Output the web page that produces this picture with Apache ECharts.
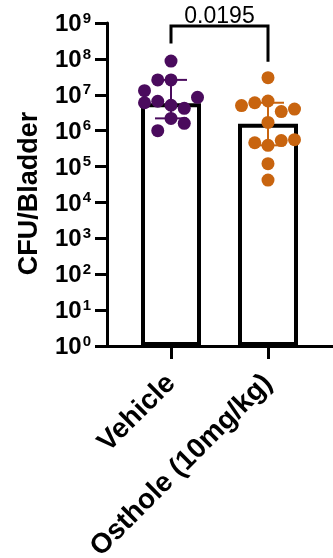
<!DOCTYPE html>
<html><head><meta charset="utf-8">
<script src="https://cdn.jsdelivr.net/npm/echarts@6/dist/echarts.min.js"></script>
<style>html,body{margin:0;padding:0;background:#fff}#c{width:333px;height:558px}</style>
</head><body><div id="c"></div>
<script>
// ---- data ----
const categories = ['Vehicle', 'Osthole (10mg/kg)'];
const vehicleValues = [8.7e7, 2.6e7, 2.6e7, 1.3e7, 6.0e6, 6.6e6, 5.1e6, 4.2e6, 8.5e6, 2.2e6, 1.6e6, 1.0e6];
const ostholeValues = [3.0e7, 5.0e6, 6.0e6, 6.7e6, 3.4e6, 4.0e6, 1.7e6, 4.6e5, 3.9e5, 5.3e5, 5.6e5, 1.2e5, 4.2e4];
const barValues = [5.8e6, 1.55e6];
const errLow = [2.2e6, 3.9e5];
const errHigh = [2.6e7, 6.0e6];
const pValueText = '0.0195';
const yTickExponents = [0, 1, 2, 3, 4, 5, 6, 7, 8, 9];
const yAxisTitle = 'CFU/Bladder';
// ---- layout (beeswarm lanes, not data) ----
const vehicleLanes = [0, -1, 0, -2, -2, -1, 0, 1, 2, 0, 1, -1];
const ostholeLanes = [0, -2, -1, 0, 1, 2, 0, -1, 0, 1, 2, 0, 0];
const groupColors = ['#4A0B5D', '#C8640F'];
const laneStep = 13.25;
const FONT = "'Liberation Sans', Arial, sans-serif";

const chart = echarts.init(document.getElementById('c'), null, {renderer: 'canvas'});

function dots(values, lanes, gi) {
  return values.map((v, i) => ({value: [gi, v], symbolOffset: [lanes[i] * laneStep, 0]}));
}

const gridTop = 23, gridBottom = 212;

const option = {
  animation: false,
  backgroundColor: '#fff',
  grid: [
    {left: 107, right: 0, top: gridTop, bottom: gridBottom, containLabel: false, outerBoundsMode: 'none'},
    {left: 122.5, right: 16.5, top: gridTop, bottom: gridBottom, containLabel: false, outerBoundsMode: 'none'}
  ],
  xAxis: [
    {gridIndex: 0, type: 'value', min: 0, max: 1,
     axisLine: {show: true, onZero: false, lineStyle: {color: '#000', width: 3}},
     axisTick: {show: false}, axisLabel: {show: false}, splitLine: {show: false}},
    {gridIndex: 1, type: 'category', data: categories,
     axisLine: {show: false},
     axisTick: {show: true, alignWithLabel: true, length: 13, lineStyle: {color: '#000', width: 3}},
     axisLabel: {rotate: 45, margin: 33, color: '#000', fontFamily: FONT, fontWeight: 'bold', fontSize: 28},
     splitLine: {show: false}}
  ],
  yAxis: [
    {gridIndex: 0, type: 'log', logBase: 10, min: 1, max: 1e9,
     axisLine: {show: true, lineStyle: {color: '#000', width: 3}},
     axisTick: {show: true, length: 12, lineStyle: {color: '#000', width: 3}},
     splitLine: {show: false},
     axisLabel: {
       margin: 16, color: '#000',
       formatter: (v, i) => '{b|10}{s|' + yTickExponents[i] + '}',
       rich: {
         b: {fontFamily: FONT, fontWeight: 'bold', fontSize: 24, color: '#000', lineHeight: 26, padding: [3, 0, 0, 0]},
         s: {fontFamily: FONT, fontWeight: 'bold', fontSize: 15, color: '#000', lineHeight: 15, verticalAlign: 'top', padding: [1, 0, 0, 1]}
       }
     },
     name: yAxisTitle, nameLocation: 'middle', nameGap: 64,
     nameTextStyle: {fontFamily: FONT, fontWeight: 'bold', fontSize: 27, color: '#000', padding: [0, 18, 0, 0]}
    },
    {gridIndex: 1, type: 'log', logBase: 10, min: 1, max: 1e9, show: false}
  ],
  series: [
    {type: 'bar', xAxisIndex: 1, yAxisIndex: 1, data: barValues, barWidth: 60, z: 1,
     itemStyle: {color: '#fff', borderColor: '#000', borderWidth: 4}},
    {type: 'custom', xAxisIndex: 1, yAxisIndex: 1, z: 2,
     data: categories.map((c, i) => [i, errLow[i], errHigh[i]]),
     renderItem(params, api) {
       const p1 = api.coord([api.value(0), api.value(1)]);
       const p2 = api.coord([api.value(0), api.value(2)]);
       const x = p1[0], half = 16;
       const st = {stroke: groupColors[params.dataIndex], lineWidth: 2};
       return {type: 'group', children: [
         {type: 'line', shape: {x1: x, y1: p1[1], x2: x, y2: p2[1]}, style: st},
         {type: 'line', shape: {x1: x - half, y1: p2[1], x2: x + half, y2: p2[1]}, style: st},
         {type: 'line', shape: {x1: x - half, y1: p1[1], x2: x + half, y2: p1[1]}, style: st}
       ]};
     }},
    {type: 'scatter', xAxisIndex: 1, yAxisIndex: 1, z: 3, symbol: 'circle', symbolSize: 13,
     itemStyle: {color: groupColors[0], opacity: 1}, data: dots(vehicleValues, vehicleLanes, 0)},
    {type: 'scatter', xAxisIndex: 1, yAxisIndex: 1, z: 3, symbol: 'circle', symbolSize: 13,
     itemStyle: {color: groupColors[1], opacity: 1}, data: dots(ostholeValues, ostholeLanes, 1)},
    {type: 'custom', xAxisIndex: 1, yAxisIndex: 1, z: 4, clip: false,
     data: [[0, Math.max(...vehicleValues), 1, Math.max(...ostholeValues)]],
     renderItem(params, api) {
       const a = api.coord([api.value(0), api.value(1)]);
       const b = api.coord([api.value(2), api.value(3)]);
       const topY = api.coord([0, 1e9])[1] + 3;
       const ay = a[1] - 17.5, by = b[1] - 16;
       return {type: 'group', children: [
         {type: 'polyline', shape: {points: [[a[0], ay], [a[0], topY], [b[0], topY], [b[0], by]]},
          style: {stroke: '#000', lineWidth: 3, fill: null}},
         {type: 'text', x: (a[0] + b[0]) / 2, y: topY + 2.5,
          style: {text: pValueText, fontFamily: FONT, fontSize: 23, fill: '#000', align: 'center', verticalAlign: 'bottom'}}
       ]};
     }}
  ]
};
chart.setOption(option);
</script></body></html>
